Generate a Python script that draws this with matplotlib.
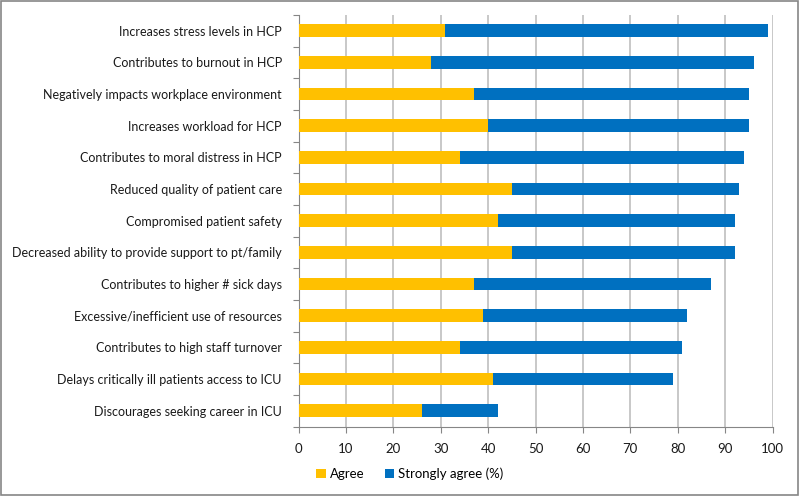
import numpy as np
import matplotlib.pyplot as plt
from matplotlib.patches import Rectangle

# ── Data ──────────────────────────────────────────────────────────────────────
categories = [
    "Increases stress levels in HCP",
    "Contributes to burnout in HCP",
    "Negatively impacts workplace environment",
    "Increases workload for HCP",
    "Contributes to moral distress in HCP",
    "Reduced quality of patient care",
    "Compromised patient safety",
    "Decreased ability to provide support to pt/family",
    "Contributes to higher # sick days",
    "Excessive/inefficient use of resources",
    "Contributes to high staff turnover",
    "Delays critically ill patients access to ICU",
    "Discourages seeking career in ICU",
]
agree = [31, 28, 37, 40, 34, 45, 42, 45, 37, 39, 34, 41, 26]
strongly = [68, 68, 58, 55, 60, 48, 50, 47, 50, 43, 47, 38, 16]

YELLOW = "#ffc000"
BLUE = "#0070c0"
GRID = "#bfbfbf"
AXIS = "#868686"

plt.rcParams["font.family"] = ["Lato", "DejaVu Sans"]

fig = plt.figure(figsize=(7.99, 4.96), dpi=100)
ax = fig.add_axes([298.5 / 799, 1 - 426.5 / 496, 474 / 799, 411.5 / 496])

y = np.arange(len(categories))
ax.barh(y, agree, height=0.4, color=YELLOW, label="Agree", zorder=3)
ax.barh(y, strongly, left=agree, height=0.4, color=BLUE,
        label="Strongly agree (%)", zorder=3)

ax.set_xlim(0, 100)
ax.set_ylim(len(categories) - 0.5, -0.5)
ax.set_xticks(range(0, 101, 10))
ax.set_yticks(y)
ax.set_yticklabels(categories, fontsize=9, color="#1a1a1a")
ax.set_yticks(np.arange(-0.5, len(categories), 1), minor=True)
ax.tick_params(axis="y", which="major", length=0, pad=12)
ax.tick_params(axis="y", which="minor", length=4, color=AXIS, width=0.8)
ax.tick_params(axis="x", length=4, color=AXIS, width=0.8, labelsize=9.5,
               labelcolor="#1a1a1a", pad=8)

ax.grid(axis="x", color=GRID, lw=1.2, zorder=0)
ax.spines["top"].set_visible(False)
ax.spines["right"].set_visible(False)
ax.spines["left"].set_color(AXIS)
ax.spines["bottom"].set_color(AXIS)
ax.spines["left"].set_linewidth(0.8)
ax.spines["bottom"].set_linewidth(0.8)

fig.legend(loc="center left", bbox_to_anchor=(311 / 799, 1 - 474 / 496),
           ncol=2, frameon=False, fontsize=9.5, handlelength=0.7,
           handleheight=0.7, handletextpad=0.3, columnspacing=1.6,
           borderaxespad=0)

fig.patches.append(Rectangle((1 / 799, 1 / 496), 797 / 799, 494 / 496,
                             transform=fig.transFigure, fill=False,
                             edgecolor="#868686", lw=1.2))

fig.savefig("out.png", dpi=100)
